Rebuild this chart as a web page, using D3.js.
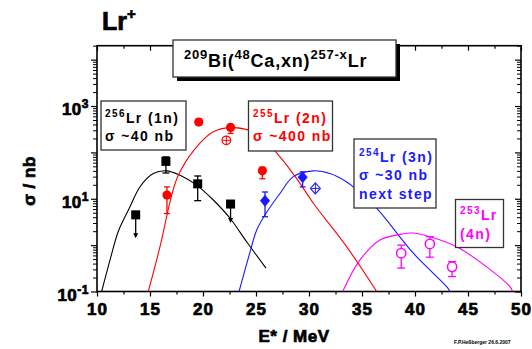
<!DOCTYPE html>
<html><head><meta charset="utf-8">
<script src="https://cdn.jsdelivr.net/npm/d3@7"></script>
<style>
body{margin:0;background:#fff}
svg{display:block}
text{font-family:"Liberation Sans",Arial,sans-serif;font-weight:bold}
.heavy{stroke:#000;stroke-width:0.7px;paint-order:stroke}
</style>
</head><body>
<svg id="chart" width="532" height="349"></svg>
<script>
// ---- measured cross sections (nb) vs excitation energy E* (MeV) ----
// 256Lr (1n)
const E_1n     = [13.65, 16.5, 19.5, 22.6];
const sigma_1n = [4.5, 64, 21, 7.7];
const lo_1n    = [1.4, 36, 9.1, 3.0];
const hi_1n    = [null, 80, 31, null];
const limit_1n = [true, false, false, true];

// 255Lr (2n)
const E_2n     = [16.6, 19.6, 22.6, 25.6];
const sigma_2n = [12, 450, 346, 40];
const lo_2n    = [4.8, 390, 256, 27];
const hi_2n    = [18, 530, 400, 48];
const E_2n_open     = [22.2];
const sigma_2n_open = [182];

// 254Lr (3n)
const E_3n     = [25.85, 29.4];
const sigma_3n = [9.1, 29];
const lo_3n    = [4.1, 18];
const hi_3n    = [14, 38];
const E_3n_open     = [30.6];
const sigma_3n_open = [16.7];

// 253Lr (4n)
const E_4n     = [38.7, 41.4, 43.5];
const sigma_4n = [0.67, 1.06, 0.34];
const lo_4n    = [0.32, 0.55, 0.21];
const hi_4n    = [1.0, 1.52, 0.44];

// ---- excitation functions (calculated curves) ----
const fitE_1n = [10.44, 11.23, 11.98, 12.64, 13.11, 14.06, 15.31, 16.57, 17.83, 19.4, 20.97, 22.55, 24.12, 25.94];
const fitS_1n = [0.1, 0.48, 1.9, 4.1, 6.7, 18.2, 35, 40, 32, 19.7, 9.4, 3.8, 1.18, 0.32];
const fitE_2n = [14.84, 15.94, 17.05, 17.67, 19.15, 20.97, 22.74, 25.07, 27.26, 29.15, 30.41, 33.56, 36.39];
const fitS_2n = [0.1, 0.92, 12, 32, 112, 278, 342, 256, 80, 21.5, 8.0, 0.92, 0.1];
const fitE_3n = [23.4, 24.43, 25.06, 25.85, 27.26, 28.52, 30.41, 31.98, 33.56, 34.34, 36.39, 39.84, 42.99, 43.3];
const fitS_3n = [0.1, 0.7, 2.1, 4.5, 13, 30, 40, 35, 23, 16.7, 6.2, 0.67, 0.127, 0.1];
const fitE_4n = [33.18, 34.81, 36.7, 38.75, 39.72, 41.41, 43.93, 46.76, 48.96, 49.2];
const fitS_4n = [0.1, 0.48, 1.29, 1.73, 1.82, 1.52, 0.92, 0.34, 0.127, 0.1];

// ---- axis labelling ----
const xLabelValues = [10, 15, 20, 25, 30, 35, 40, 45, 50];
const yLabelValues = [0.1, 10, 1000];
const yLabelExps   = ["-1", "1", "3"];

const svg = d3.select("#chart");
const x = d3.scaleLinear().domain([10, 50]).range([97, 521]);
const y = d3.scaleLog().domain([0.1, 2e4]).range([291.5, 45.7]);
const [X0, X1] = x.range();
const [Y0, Y1] = y.range();

const isDecade = v => Math.abs(Math.log10(v) - Math.round(Math.log10(v))) < 1e-9;
const xTicks = d3.range(10, 50.001, 2.5);
const yTicks = y.ticks();

// rich text with superscripts: parts = [[string, isSup], ...]
function rich(g, px, py, parts, size, supSize, color, ls, anchor) {
  const t = g.append("text").attr("x", px).attr("y", py)
    .attr("fill", color).attr("text-anchor", anchor || "start")
    .style("font-size", size + "px").style("letter-spacing", (ls || 0) + "px");
  const shift = Math.round(size * 0.42);
  let raised = false;
  parts.forEach(([s, sup]) => {
    const ts = t.append("tspan").text(s);
    if (sup) {
      ts.style("font-size", supSize + "px");
      if (!raised) { ts.attr("dy", -shift); raised = true; }
    } else if (raised) { ts.attr("dy", shift); raised = false; }
  });
  return t;
}

// ---- clip region for curves ----
svg.append("defs").append("clipPath").attr("id", "plot")
  .append("rect").attr("x", X0).attr("y", Y1).attr("width", X1 - X0).attr("height", Y0 - Y1);

// ---- axes ----
function styleAxis(g) {
  g.select(".domain").remove();
  g.selectAll(".tick line").attr("stroke", "#000").attr("stroke-width", 1.2);
  return g;
}
const axB = svg.append("g").attr("transform", `translate(0,${Y0})`)
  .call(d3.axisBottom(x).tickValues(xTicks).tickSize(5).tickPadding(6)
    .tickFormat(d => xLabelValues.includes(d) ? d : ""));
styleAxis(axB);
axB.selectAll(".tick").filter(d => d % 5 !== 0).select("line").attr("y2", 3);
axB.selectAll(".tick text").attr("class", "heavy").style("font-size", "17px")
  .style("font-family", "'Liberation Sans',Arial,sans-serif")
  .style("font-weight", "bold").style("letter-spacing", "1px").attr("fill", "#000");

const axT = svg.append("g").attr("transform", `translate(0,${Y1})`)
  .call(d3.axisTop(x).tickValues(xTicks).tickSize(-5).tickFormat(""));
styleAxis(axT);
axT.selectAll(".tick").filter(d => d % 5 !== 0).select("line").attr("y2", 3);

const axL = svg.append("g").attr("transform", `translate(${X0},0)`)
  .call(d3.axisLeft(y).tickValues(yTicks).tickSize(6).tickFormat(""));
styleAxis(axL);
axL.selectAll(".tick").filter(d => !isDecade(d)).select("line").attr("x2", -4).attr("stroke-width", 1);

const axR = svg.append("g").attr("transform", `translate(${X1},0)`)
  .call(d3.axisRight(y).tickValues(yTicks).tickSize(-6).tickFormat(""));
styleAxis(axR);
axR.selectAll(".tick").filter(d => !isDecade(d)).select("line").attr("x2", -4).attr("stroke-width", 1);

// frame
svg.append("rect").attr("x", X0).attr("y", Y1).attr("width", X1 - X0).attr("height", Y0 - Y1)
  .attr("fill", "none").attr("stroke", "#000").attr("stroke-width", 1.6);

// y tick labels 10^n
yLabelValues.forEach((v, i) => {
  rich(svg, 89, y(v) + 9, [["10", false], [yLabelExps[i], true]], 17, 12, "#000", 0.5, "end")
    .attr("class", "heavy");
});

// axis titles
svg.append("text").attr("class", "heavy").attr("transform", "translate(35,181) rotate(-90)")
  .attr("text-anchor", "middle").style("font-size", "17px").style("letter-spacing", "0.5px").text("σ / nb");
svg.append("text").attr("class", "heavy").attr("x", 294).attr("y", 342).attr("text-anchor", "middle")
  .style("font-size", "17px").style("letter-spacing", "0.5px").text("E* / MeV");

// chart title
rich(svg, 102, 30, [["Lr", false], ["+", true]], 25, 15, "#000", 0).attr("class", "heavy");

// credit
svg.append("text").attr("x", 454).attr("y", 344).style("font-size", "5px").text("F.P.Heßberger 26.6.2007");

// ---- curves ----
const line = d3.line().x(d => x(d[0])).y(d => y(d[1])).curve(d3.curveCatmullRom.alpha(0.5));
const curves = svg.append("g").attr("clip-path", "url(#plot)");
[[fitE_1n, fitS_1n, "#000"], [fitE_2n, fitS_2n, "#ff0000"],
 [fitE_3n, fitS_3n, "#1a1aff"], [fitE_4n, fitS_4n, "#ff00ff"]].forEach(([E, S, c]) => {
  curves.append("path").datum(d3.zip(E, S)).attr("d", line)
    .attr("fill", "none").attr("stroke", c).attr("stroke-width", 1.1);
});

// ---- error bars ----
const marks = svg.append("g");
function errorBars(E, S, lo, hi, color, cap) {
  E.forEach((e, i) => {
    const cx = x(e);
    if (hi[i] != null) {
      marks.append("line").attr("x1", cx).attr("x2", cx).attr("y1", y(S[i])).attr("y2", y(hi[i]))
        .attr("stroke", color).attr("stroke-width", 1.3);
      marks.append("line").attr("x1", cx - cap).attr("x2", cx + cap).attr("y1", y(hi[i])).attr("y2", y(hi[i]))
        .attr("stroke", color).attr("stroke-width", 1.3);
    }
    if (lo[i] != null) {
      marks.append("line").attr("x1", cx).attr("x2", cx).attr("y1", y(S[i])).attr("y2", y(lo[i]))
        .attr("stroke", color).attr("stroke-width", 1.3);
      marks.append("line").attr("x1", cx - cap).attr("x2", cx + cap).attr("y1", y(lo[i])).attr("y2", y(lo[i]))
        .attr("stroke", color).attr("stroke-width", 1.3);
    }
  });
}

// 1n: upper limits drawn as downward arrows
E_1n.forEach((e, i) => {
  const cx = x(e);
  if (limit_1n[i]) {
    const tip = y(lo_1n[i]);
    marks.append("line").attr("x1", cx).attr("x2", cx).attr("y1", y(sigma_1n[i])).attr("y2", tip - 3)
      .attr("stroke", "#000").attr("stroke-width", 1.3);
    marks.append("path").attr("d", `M${cx - 2.5},${tip - 5}L${cx + 2.5},${tip - 5}L${cx},${tip}Z`).attr("fill", "#000");
  }
});
errorBars(E_1n, sigma_1n, lo_1n.map((v, i) => limit_1n[i] ? null : v), hi_1n, "#000", 3.5);
errorBars(E_2n, sigma_2n, lo_2n, hi_2n, "#ff0000", 3);
errorBars(E_3n, sigma_3n, lo_3n, hi_3n, "#1a1aff", 3);
errorBars(E_4n, sigma_4n, lo_4n, hi_4n, "#ff00ff", 4);

// ---- markers ----
E_1n.forEach((e, i) => {
  marks.append("rect").attr("x", x(e) - 4.5).attr("y", y(sigma_1n[i]) - 4.5)
    .attr("width", 9).attr("height", 9).attr("fill", "#000");
});
E_2n.forEach((e, i) => {
  marks.append("circle").attr("cx", x(e)).attr("cy", y(sigma_2n[i])).attr("r", 4.6).attr("fill", "#ff0000");
});
E_2n_open.forEach((e, i) => {
  const cx = x(e), cy = y(sigma_2n_open[i]);
  marks.append("circle").attr("cx", cx).attr("cy", cy).attr("r", 4.3)
    .attr("fill", "#fff").attr("stroke", "#ff0000").attr("stroke-width", 1.2);
  marks.append("path").attr("d", `M${cx - 4},${cy}H${cx + 4}M${cx},${cy - 4.5}V${cy + 4.5}`)
    .attr("stroke", "#ff0000").attr("stroke-width", 1);
});
const diamond = (cx, cy, w, h) => `M${cx},${cy - h}L${cx + w},${cy}L${cx},${cy + h}L${cx - w},${cy}Z`;
E_3n.forEach((e, i) => {
  marks.append("path").attr("d", diamond(x(e), y(sigma_3n[i]), 5, 6)).attr("fill", "#1a1aff");
});
E_3n_open.forEach((e, i) => {
  const cx = x(e), cy = y(sigma_3n_open[i]);
  marks.append("path").attr("d", diamond(cx, cy, 5, 5.5))
    .attr("fill", "#fff").attr("stroke", "#1a1aff").attr("stroke-width", 1.1);
  marks.append("path").attr("d", `M${cx - 4},${cy}H${cx + 4}M${cx},${cy - 4.5}V${cy + 4.5}`)
    .attr("stroke", "#1a1aff").attr("stroke-width", 1);
});
E_4n.forEach((e, i) => {
  marks.append("ellipse").attr("cx", x(e)).attr("cy", y(sigma_4n[i])).attr("rx", 4.6).attr("ry", 4.8)
    .attr("fill", "#fff").attr("stroke", "#ff00ff").attr("stroke-width", 1.5);
});

// ---- annotation boxes ----
function box(bx, by, bw, bh) {
  svg.append("rect").attr("x", bx).attr("y", by).attr("width", bw).attr("height", bh)
    .attr("fill", "#fff").attr("stroke", "#333").attr("stroke-width", 1.3);
}
// reaction title with drop shadow
svg.append("rect").attr("x", 177).attr("y", 44).attr("width", 223).attr("height", 37).attr("fill", "#000");
box(173, 40, 223, 37);
rich(svg, 184, 67, [["209", true], ["Bi(", false], ["48", true], ["Ca,xn)", false], ["257-x", true], ["Lr", false]],
  18, 13, "#000", 0.8);

box(101, 101, 85, 49);
rich(svg, 105, 123, [["256", true], ["Lr (1n)", false]], 14, 10, "#000", 1.4);
rich(svg, 105, 141, [["σ ~40 nb", false]], 14, 10, "#000", 1.4);

box(248.5, 101, 84, 50);
rich(svg, 253, 123, [["255", true], ["Lr (2n)", false]], 14, 10, "#ff0000", 1.4);
rich(svg, 253, 141, [["σ ~400 nb", false]], 14, 10, "#ff0000", 1.4);

box(354, 139, 82, 69);
rich(svg, 359, 162, [["254", true], ["Lr (3n)", false]], 14, 10, "#1a1aff", 1.4);
rich(svg, 359, 180, [["σ ~30 nb", false]], 14, 10, "#1a1aff", 1.4);
rich(svg, 359, 198.5, [["next step", false]], 14, 10, "#1a1aff", 1.4);

box(455.5, 199.5, 48, 48);
rich(svg, 460, 220, [["253", true], ["Lr", false]], 14, 10, "#ff00ff", 1.4);
rich(svg, 460, 239, [["(4n)", false]], 14, 10, "#ff00ff", 1.4);
</script>
</body></html>
